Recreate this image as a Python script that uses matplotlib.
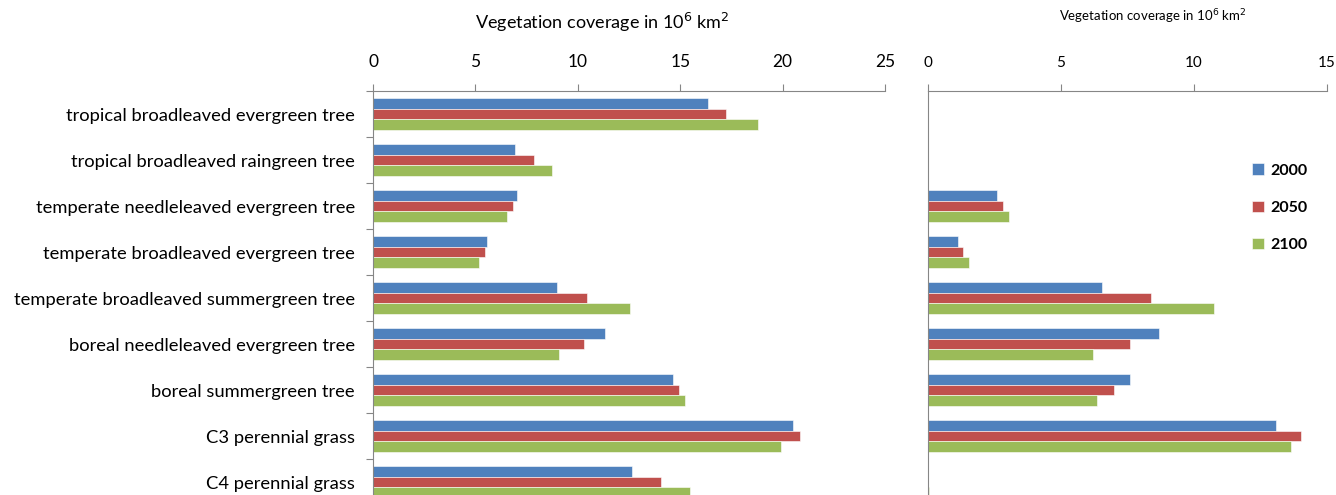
import matplotlib.pyplot as plt
import numpy as np

plt.rcParams['font.family'] = ['Lato', 'DejaVu Sans']

categories = [
    "tropical broadleaved evergreen tree",
    "tropical broadleaved raingreen tree",
    "temperate needleleaved evergreen tree",
    "temperate broadleaved evergreen tree",
    "temperate broadleaved summergreen tree",
    "boreal needleleaved evergreen tree",
    "boreal summergreen tree",
    "C3 perennial grass",
    "C4 perennial grass",
]
years = ["2000", "2050", "2100"]

# left panel
left_2000 = [16.34, 6.94, 7.02, 5.59, 8.96, 11.31, 14.66, 20.49, 12.63]
left_2050 = [17.26, 7.85, 6.84, 5.49, 10.45, 10.30, 14.95, 20.84, 14.07]
left_2100 = [18.80, 8.72, 6.55, 5.19, 12.54, 9.06, 15.24, 19.92, 15.47]

# right panel
right_2000 = [0.01, 0.01, 2.62, 1.16, 6.56, 8.71, 7.59, 13.08, 0.01]
right_2050 = [0.02, 0.02, 2.84, 1.32, 8.38, 7.59, 6.99, 14.01, 0.02]
right_2100 = [0.02, 0.02, 3.07, 1.55, 10.75, 6.23, 6.38, 13.65, 0.04]

colors = ["#4F81BD", "#C0504D", "#9BBB59"]
axis_col = "#868686"

W, H = 1336, 495
fig = plt.figure(figsize=(W / 100, H / 100), dpi=100)

top_px, bot_px = 91, 505
ax1 = fig.add_axes([373 / W, (H - bot_px) / H, (885 - 373) / W, (bot_px - top_px) / H])
ax2 = fig.add_axes([927.5 / W, (H - bot_px) / H, (1327 - 927.5) / W, (bot_px - top_px) / H])

n = len(categories)
y = np.arange(n)
bh = 0.225


def draw(ax, series, xmax, step, labelsize):
    for i, (vals, c) in enumerate(zip(series, colors)):
        ax.barh(y + (i - 1) * bh, vals, height=bh, color=c, label=years[i],
                edgecolor="white", linewidth=0.4)
    ax.set_xlim(0, xmax)
    ax.set_ylim(n - 0.5, -0.5)
    ax.xaxis.tick_top()
    ax.set_xticks(np.arange(0, xmax + 0.1, step))
    ax.tick_params(axis='x', direction='out', length=5, color=axis_col,
                   labelsize=labelsize, pad=10)
    for s in ['right', 'bottom']:
        ax.spines[s].set_visible(False)
    for s in ['top', 'left']:
        ax.spines[s].set_color(axis_col)


draw(ax1, [left_2000, left_2050, left_2100], 25, 5, 12.5)
draw(ax2, [right_2000, right_2050, right_2100], 15, 5, 11)

# category boundary ticks and labels at centres
ax1.set_yticks(np.arange(-0.5, n, 1))
ax1.set_yticklabels([])
ax1.set_yticks(y, minor=True)
ax1.set_yticklabels(categories, minor=True)
ax1.tick_params(axis='y', which='major', direction='out', length=5, color=axis_col)
ax1.tick_params(axis='y', which='minor', length=0, labelsize=13.2, pad=13)

ax2.set_yticks([])

fig.text(602 / W, 1 - 22 / H, "Vegetation coverage in 10$^{6}$ km$^{2}$",
         ha='center', va='center', fontsize=13)
fig.text(1153 / W, 1 - 17 / H, "Vegetation coverage in 10$^{6}$ km$^{2}$",
         ha='center', va='center', fontsize=9.5)

leg = ax2.legend(loc='upper left', bbox_to_anchor=(1238 / W, 1 - 149 / H),
                 bbox_transform=fig.transFigure, frameon=False,
                 handlelength=0.7, handleheight=0.7, handletextpad=0.4,
                 labelspacing=1.45, fontsize=11.5)
for t in leg.get_texts():
    t.set_fontweight('bold')

fig.savefig("out.png", dpi=100)
